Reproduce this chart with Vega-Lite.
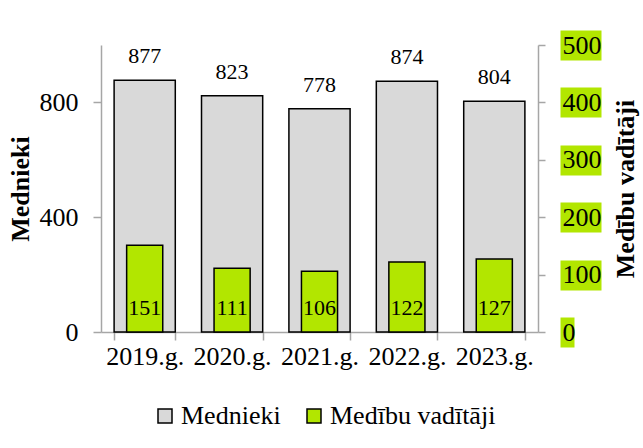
{
  "$schema": "https://vega.github.io/schema/vega-lite/v6.json",
  "width": 437,
  "height": 287,
  "autosize": {"type": "none"},
  "padding": {"left": 101, "top": 45, "right": 105, "bottom": 116},
  "background": "white",
  "config": {
    "font": "Liberation Serif",
    "view": {"stroke": null},
    "axis": {
      "grid": false,
      "labelFont": "Liberation Serif",
      "labelFontSize": 26,
      "labelColor": "black",
      "titleFont": "Liberation Serif",
      "titleFontSize": 26,
      "titleFontWeight": "bold",
      "titleColor": "black",
      "domainColor": "#a6a6a6",
      "tickColor": "#a6a6a6",
      "domainWidth": 1.5,
      "tickWidth": 1.5
    },
    "legend": {
      "labelFont": "Liberation Serif",
      "labelFontSize": 26,
      "labelColor": "black"
    }
  },
  "data": {
    "values": [
      {"year": "2019.g.", "mednieki": 877, "vaditaji": 151},
      {"year": "2020.g.", "mednieki": 823, "vaditaji": 111},
      {"year": "2021.g.", "mednieki": 778, "vaditaji": 106},
      {"year": "2022.g.", "mednieki": 874, "vaditaji": 122},
      {"year": "2023.g.", "mednieki": 804, "vaditaji": 127}
    ]
  },
  "encoding": {
    "x": {
      "field": "year",
      "type": "nominal",
      "sort": null,
      "scale": {"paddingInner": 0.3, "paddingOuter": 0.15},
      "axis": {"title": null, "labelAngle": 0, "tickBand": "extent", "tickSize": 8, "labelPadding": 3}
    }
  },
  "layer": [
    {
      "mark": {"type": "bar", "stroke": "black", "strokeWidth": 1.5},
      "encoding": {
        "y": {
          "field": "mednieki",
          "type": "quantitative",
          "scale": {"domain": [0, 1000], "nice": false},
          "axis": {"title": "Mednieki", "orient": "left", "values": [0, 400, 800], "tickSize": 8, "labelPadding": 15, "titlePadding": 6}
        },
        "color": {
          "datum": "Mednieki",
          "type": "nominal",
          "scale": {"domain": ["Mednieki", "Medību vadītāji"], "range": ["#d9d9d9", "#b2e600"]},
          "legend": {
            "title": null,
            "orient": "none",
            "direction": "horizontal",
            "legendX": 51,
            "legendY": 358,
            "symbolType": "square",
            "symbolSize": 196,
            "symbolStrokeColor": "black",
            "symbolStrokeWidth": 1.5,
            "labelOffset": 3,
            "labelLimit": 0,
            "columnPadding": 20,
            "padding": 0
          }
        }
      }
    },
    {
      "mark": {"type": "text", "fontSize": 22, "baseline": "alphabetic", "dy": -17, "color": "black"},
      "encoding": {
        "y": {"field": "mednieki", "type": "quantitative", "scale": {"domain": [0, 1000], "nice": false}, "axis": null},
        "text": {"field": "mednieki", "type": "quantitative"}
      }
    },
    {
      "mark": {"type": "bar", "stroke": "black", "strokeWidth": 1.5, "width": {"band": 0.59}},
      "encoding": {
        "y": {
          "field": "vaditaji",
          "type": "quantitative",
          "scale": {"domain": [0, 500], "nice": false},
          "axis": {"title": "Medību vadītāji", "orient": "right", "values": [0, 100, 200, 300, 400, 500], "tickSize": 7, "labels": false, "titleAngle": 270, "titlePadding": 93}
        },
        "color": {"datum": "Medību vadītāji", "type": "nominal"}
      }
    },
    {
      "mark": {"type": "text", "fontSize": 22, "baseline": "alphabetic", "dy": -17, "color": "black"},
      "encoding": {
        "y": {
          "datum": 0,
          "type": "quantitative",
          "scale": {"domain": [0, 500], "nice": false},
          "axis": {
            "title": null,
            "orient": "right",
            "offset": 22,
            "domain": false,
            "values": [0, 100, 200, 300, 400, 500],
            "tickColor": "#b2e600",
            "tickWidth": 30,
            "tickSize": 41,
            "tickDash": {"condition": {"test": "datum.value === 0", "value": [14, 200]}, "value": []},
            "labelPadding": -39,
            "labelAlign": "left"
          }
        },
        "text": {"field": "vaditaji", "type": "quantitative"}
      }
    }
  ],
  "resolve": {"scale": {"y": "independent"}, "axis": {"y": "independent"}}
}
